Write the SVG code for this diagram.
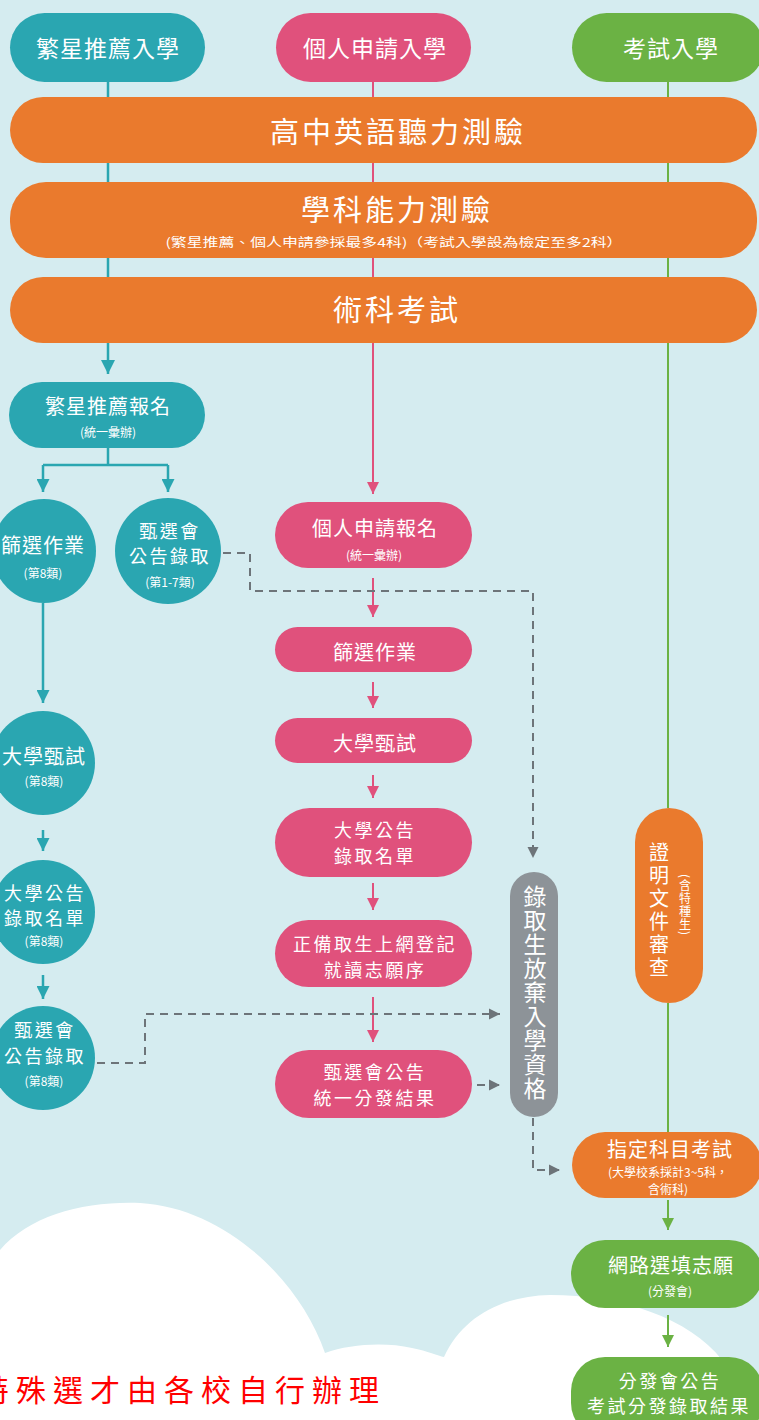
<svg xmlns="http://www.w3.org/2000/svg" width="759" height="1420" viewBox="0 0 759 1420">
<style>
text{font-family:"Noto Sans CJK TC","Noto Sans CJK SC",sans-serif;fill:#fff;text-anchor:middle;dominant-baseline:central}
.hd{font-size:23px;letter-spacing:1px;font-weight:400}
.bar{font-size:29px;letter-spacing:3px;font-weight:400}
.t{font-size:20px;letter-spacing:1px;font-weight:400}
.t2{font-size:18px;letter-spacing:2.5px;font-weight:400}
.s{font-size:12px;font-weight:400}
.teal{fill:#2aa6b1}.pink{fill:#e0517c}.green{fill:#6bb244}.orange{fill:#ea7a2d}.gray{fill:#8d9398}
.lt{stroke:#2aa6b1;stroke-width:2.5;fill:none}
.lp{stroke:#e0517c;stroke-width:2;fill:none}
.lg{stroke:#6bb244;stroke-width:2;fill:none}
.ld{stroke:#6d7479;stroke-width:2;fill:none;stroke-dasharray:8 6}
.vt{writing-mode:vertical-rl}
</style>
<defs>
<marker id="aT" viewBox="0 0 10 10" refX="10" refY="5" markerUnits="userSpaceOnUse" markerWidth="13" markerHeight="13" orient="auto"><path d="M0,0L10,5L0,10z" fill="#2aa6b1"/></marker>
<marker id="aTB" viewBox="0 0 10 10" refX="10" refY="5" markerUnits="userSpaceOnUse" markerWidth="14" markerHeight="19" orient="auto"><path d="M0,0L10,5L0,10z" fill="#2aa6b1"/></marker>
<marker id="aP" viewBox="0 0 10 10" refX="10" refY="5" markerUnits="userSpaceOnUse" markerWidth="12" markerHeight="13" orient="auto"><path d="M0,0L10,5L0,10z" fill="#e0517c"/></marker>
<marker id="aG" viewBox="0 0 10 10" refX="10" refY="5" markerUnits="userSpaceOnUse" markerWidth="12" markerHeight="13" orient="auto"><path d="M0,0L10,5L0,10z" fill="#6bb244"/></marker>
<marker id="aD" viewBox="0 0 10 10" refX="10" refY="5" markerUnits="userSpaceOnUse" markerWidth="11" markerHeight="12" orient="auto"><path d="M0,0L10,5L0,10z" fill="#6d7479"/></marker>
</defs>
<rect width="759" height="1420" fill="#d5ecf0"/>
<path d="M0 1250 C30 1215 85 1201 140 1203 C225 1208 300 1280 325 1353 C350 1344 385 1342 412 1348 C428 1351 438 1356 444 1357 C462 1318 500 1296 550 1295 C620 1295 690 1318 722 1360 L759 1385 V1420 H0 Z" fill="#ffffff"/>
<g id="connectors">
<path class="lt" d="M108 82V374" marker-end="url(#aTB)"/>
<path class="lt" d="M108 448V465M43 465H168"/>
<path class="lt" d="M43 465V492" marker-end="url(#aT)"/>
<path class="lt" d="M168 465V492" marker-end="url(#aT)"/>
<path class="lt" d="M43 603V703" marker-end="url(#aT)"/>
<path class="lt" d="M43 830V851" marker-end="url(#aT)"/>
<path class="lt" d="M43 975V999" marker-end="url(#aT)"/>
<path class="lp" d="M373 82V494" marker-end="url(#aP)"/>
<path class="lp" d="M373 578V617" marker-end="url(#aP)"/>
<path class="lp" d="M373 682V708" marker-end="url(#aP)"/>
<path class="lp" d="M373 775V798" marker-end="url(#aP)"/>
<path class="lp" d="M373 883V910" marker-end="url(#aP)"/>
<path class="lp" d="M373 997V1042" marker-end="url(#aP)"/>
<path class="lg" d="M668 82V808M668 1003V1132"/>
<path class="lg" d="M668 1200V1230" marker-end="url(#aG)"/>
<path class="lg" d="M668 1315V1347" marker-end="url(#aG)"/>
<path class="ld" d="M223 553H250V591H533V858" marker-end="url(#aD)"/>
<path class="ld" d="M97 1063H145V1014H500" marker-end="url(#aD)"/>
<path class="ld" d="M477 1085H500" marker-end="url(#aD)"/>
<path class="ld" d="M533 1118V1170H560" marker-end="url(#aD)"/>
</g>
<g id="h1"><rect class="teal" x="10" y="13" width="195" height="69" rx="34.5"/><text class="hd" x="108" y="47">繁星推薦入學</text></g>
<g id="h2"><rect class="pink" x="276" y="13" width="195" height="69" rx="34.5"/><text class="hd" x="375" y="47">個人申請入學</text></g>
<g id="h3"><rect class="green" x="572" y="13" width="192" height="69" rx="34.5"/><text class="hd" x="671" y="47">考試入學</text></g>
<g id="b1"><rect class="orange" x="10" y="97" width="747" height="66" rx="33"/><text class="bar" x="398" y="130">高中英語聽力測驗</text></g>
<g id="b2"><rect class="orange" x="10" y="182" width="747" height="76" rx="36"/><text class="bar" x="397" y="208">學科能力測驗</text><text class="s" x="394" y="241" font-size="13" textLength="457" lengthAdjust="spacingAndGlyphs">(繁星推薦、個人申請參採最多4科)（考試入學設為檢定至多2科）</text></g>
<g id="b3"><rect class="orange" x="10" y="277" width="747" height="66" rx="33"/><text class="bar" x="397" y="308">術科考試</text></g>
<g id="s1"><rect class="teal" x="9" y="382" width="196" height="66" rx="33"/><text class="t" x="108" y="405">繁星推薦報名</text><text class="s" x="108" y="431">(統一彙辦)</text></g>
<g id="s2"><circle class="teal" cx="44" cy="551" r="52"/><text class="t" x="43" y="544">篩選作業</text><text class="s" x="43" y="572">(第8類)</text></g>
<g id="s3"><circle class="teal" cx="168" cy="551" r="53"/><text class="t2" x="170" y="530">甄選會</text><text class="t2" x="170" y="555">公告錄取</text><text class="s" x="170" y="581">(第1-7類)</text></g>
<g id="s4"><circle class="teal" cx="43" cy="763" r="52"/><text class="t" x="44" y="755">大學甄試</text><text class="s" x="44" y="780">(第8類)</text></g>
<g id="s5"><circle class="teal" cx="43" cy="912" r="52"/><text class="t2" x="45" y="892">大學公告</text><text class="t2" x="45" y="917">錄取名單</text><text class="s" x="44" y="940">(第8類)</text></g>
<g id="s6"><circle class="teal" cx="43" cy="1058" r="52"/><text class="t2" x="45" y="1029">甄選會</text><text class="t2" x="45" y="1055">公告錄取</text><text class="s" x="44" y="1080">(第8類)</text></g>
<g id="p1"><rect class="pink" x="275" y="502" width="197" height="66" rx="33"/><text class="t" x="375" y="527">個人申請報名</text><text class="s" x="374" y="554">(統一彙辦)</text></g>
<g id="p2"><rect class="pink" x="275" y="627" width="197" height="45" rx="22.5"/><text class="t" x="375" y="651">篩選作業</text></g>
<g id="p3"><rect class="pink" x="275" y="718" width="197" height="45" rx="22.5"/><text class="t" x="375" y="742">大學甄試</text></g>
<g id="p4"><rect class="pink" x="275" y="808" width="197" height="69" rx="34.5"/><text class="t2" x="375" y="829">大學公告</text><text class="t2" x="375" y="855">錄取名單</text></g>
<g id="p5"><rect class="pink" x="275" y="920" width="197" height="67" rx="33.5"/><text class="t2" x="375" y="943">正備取生上網登記</text><text class="t2" x="375" y="969">就讀志願序</text></g>
<g id="p6"><rect class="pink" x="275" y="1050" width="197" height="68" rx="34"/><text class="t2" x="375" y="1071">甄選會公告</text><text class="t2" x="375" y="1097">統一分發結果</text></g>
<g id="g1"><rect class="gray" x="510" y="872" width="48" height="245" rx="24"/><text class="vt" x="535" y="993" font-size="23" letter-spacing="1" font-weight="400">錄取生放棄入學資格</text></g>
<g id="o1"><rect class="orange" x="635" y="808" width="68" height="195" rx="34"/><text class="vt" x="659" y="911" font-size="20" letter-spacing="3" font-weight="400">證明文件審查</text><text class="vt" x="685" y="905" font-size="12" letter-spacing="1" font-weight="400">(含特種生)</text></g>
<g id="o2"><rect class="orange" x="572" y="1132" width="190" height="66" rx="33"/><text class="t" x="670" y="1148">指定科目考試</text><text class="s" x="668" y="1171" font-size="13">(大學校系採計3~5科，</text><text class="s" x="668" y="1188" font-size="13">含術科)</text></g>
<g id="r1"><rect class="green" x="571" y="1240" width="192" height="68" rx="34"/><text class="t" x="671" y="1264">網路選填志願</text><text class="s" x="670" y="1290">(分發會)</text></g>
<g id="r2"><rect class="green" x="571" y="1357" width="192" height="80" rx="34"/><text class="t2" x="670" y="1380">分發會公告</text><text class="t2" x="669" y="1405">考試分發錄取結果</text></g>
<text x="-21" y="1388" style="text-anchor:start;fill:#ff0000;font-size:30px;letter-spacing:7px;font-weight:400">特殊選才由各校自行辦理</text>
</svg>
